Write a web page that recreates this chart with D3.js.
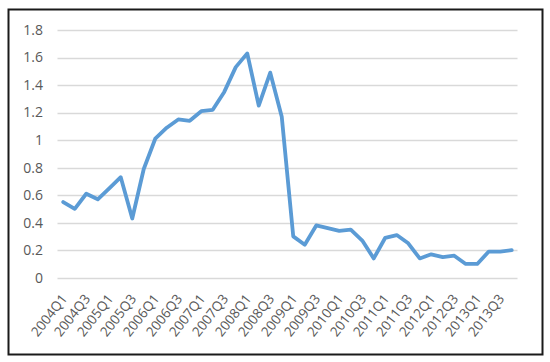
<!DOCTYPE html>
<html>
<head>
<meta charset="utf-8">
<script src="https://cdn.jsdelivr.net/npm/d3@7"></script>
<style>
  body { margin: 0; background: #fff; }
  svg text { font-family: "Open Sans", "Noto Sans", sans-serif; fill: #595959; }
</style>
</head>
<body>
<div id="chart"></div>
<script>
// quarterly values, 2004Q1 .. 2013Q4
var years = [2004, 2005, 2006, 2007, 2008, 2009, 2010, 2011, 2012, 2013];
var values = [
  0.55, 0.50, 0.61, 0.57,
  0.65, 0.73, 0.43, 0.79,
  1.01, 1.09, 1.15, 1.14,
  1.21, 1.22, 1.35, 1.53,
  1.63, 1.25, 1.49, 1.17,
  0.30, 0.24, 0.38, 0.36,
  0.34, 0.35, 0.27, 0.14,
  0.29, 0.31, 0.25, 0.14,
  0.17, 0.15, 0.16, 0.10,
  0.10, 0.19, 0.19, 0.20
];
var yTicks = [0, 0.2, 0.4, 0.6, 0.8, 1, 1.2, 1.4, 1.6, 1.8];

var quarters = [];
years.forEach(function(y) {
  [1, 2, 3, 4].forEach(function(q) { quarters.push(y + "Q" + q); });
});
var data = quarters.map(function(q, i) { return { q: q, v: values[i] }; });

var width = 550, height = 362;
var plot = { left: 57.5, right: 517.5, top: 30, bottom: 277.7 };

var svg = d3.select("#chart").append("svg")
  .attr("width", width)
  .attr("height", height);

// frame
svg.append("rect")
  .attr("x", 8.5).attr("y", 9.5)
  .attr("width", 534).attr("height", 345)
  .attr("fill", "#fff")
  .attr("stroke", "#1a1a1a")
  .attr("stroke-width", 2);

var x = d3.scaleBand()
  .domain(quarters)
  .range([plot.left, plot.right]);

var y = d3.scaleLinear()
  .domain([0, 1.8])
  .range([plot.bottom, plot.top]);

// gridlines
svg.append("g").selectAll("line")
  .data(yTicks)
  .enter()
  .append("line")
  .attr("x1", plot.left).attr("x2", plot.right)
  .attr("y1", function(d) { return Math.round(y(d)) + 0.5; })
  .attr("y2", function(d) { return Math.round(y(d)) + 0.5; })
  .attr("stroke", "#d9d9d9")
  .attr("stroke-width", 1.3);

// y labels
svg.append("g").selectAll("text")
  .data(yTicks)
  .enter()
  .append("text")
  .attr("x", 43)
  .attr("y", function(d) { return y(d); })
  .attr("dy", "0.35em")
  .attr("text-anchor", "end")
  .style("font-size", "14px")
  .text(function(d) { return d; });

// x labels, every other quarter
svg.append("g").selectAll("text")
  .data(quarters.filter(function(d, i) { return i % 2 === 0; }))
  .enter()
  .append("text")
  .attr("transform", function(d) {
    var cx = x(d) + x.bandwidth() / 2;
    return "translate(" + (cx + 1) + "," + 296 + ") rotate(-52)";
  })
  .attr("text-anchor", "end")
  .attr("dy", "0.35em")
  .style("font-size", "13.5px")
  .text(function(d) { return d; });

// line
var line = d3.line()
  .x(function(d) { return x(d.q) + x.bandwidth() / 2; })
  .y(function(d) { return y(d.v); });

svg.append("path")
  .datum(data)
  .attr("d", line)
  .attr("fill", "none")
  .attr("stroke", "#5b9bd5")
  .attr("stroke-width", 3.8)
  .attr("stroke-linejoin", "round")
  .attr("stroke-linecap", "round");
</script>
</body>
</html>
